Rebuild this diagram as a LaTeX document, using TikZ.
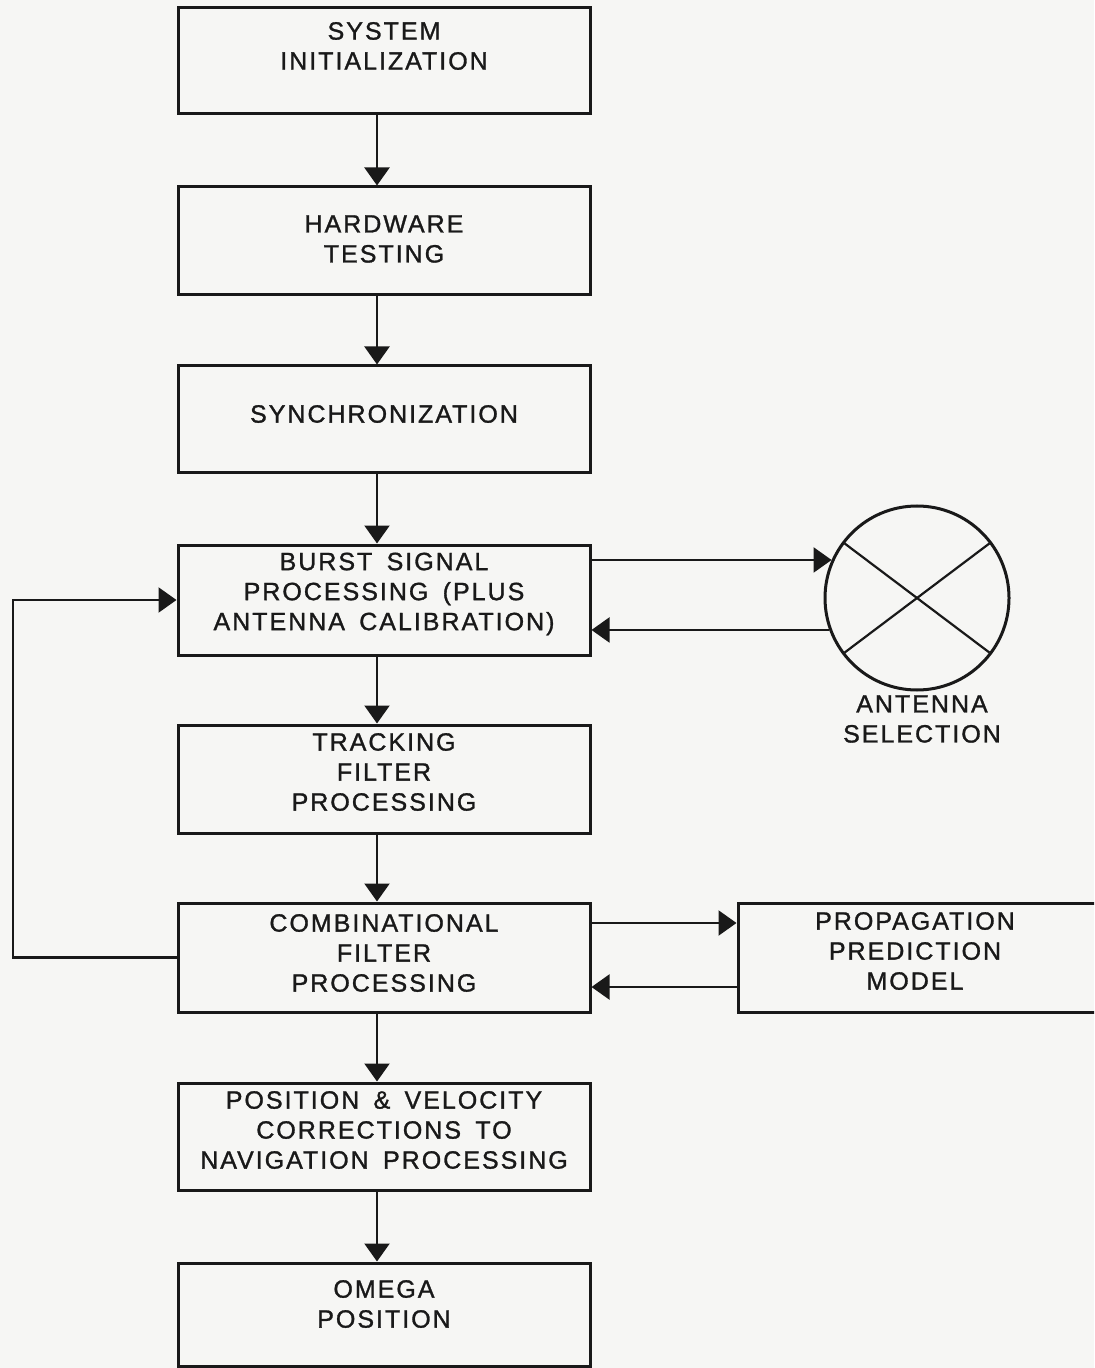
\documentclass[tikz,border=0pt]{standalone}
\usepackage{fontspec}
\setmainfont{Liberation Sans}[LetterSpace=8,FakeBold=1.2,WordSpace=1.6]
\usetikzlibrary{arrows.meta,calc}
\definecolor{paper}{RGB}{246,246,244}
\definecolor{ink}{RGB}{25,25,25}
\begin{document}
\begin{tikzpicture}[x=0.5pt,y=-0.5pt,
  box/.style={draw=ink,line width=1.5pt,rectangle,inner sep=0pt,minimum width=206pt},
  lbl/.style={align=center,inner sep=0pt,text=ink,font=\fontsize{12.5}{15}\selectfont},
  arr/.style={draw=ink,line width=1.1pt,-{Triangle[width=12.5pt,length=9pt]}},
  ln/.style={draw=ink,line width=1.1pt}]
\fill[paper] (0,0) rectangle (1094,1368);
\useasboundingbox (0,0) rectangle (1094,1368);
\clip (0,0) rectangle (1094,1368);
% boxes
\node[box,minimum height=53pt] (b1) at (384,61) {};
\node[box,minimum height=54pt] (b2) at (384,241) {};
\node[box,minimum height=53.5pt] (b3) at (384,419.5) {};
\node[box,minimum height=55pt] (b4) at (384,600) {};
\node[box,minimum height=54pt] (b5) at (384,779) {};
\node[box,minimum height=54.5pt] (b6) at (384,957.5) {};
\node[box,minimum height=53.5pt] (b7) at (384,1136.5) {};
\node[box,minimum height=51.5pt] (b8) at (384,1314.5) {};
\node[box,minimum width=181pt,minimum height=54.5pt] (prop) at (919,957.5) {};
\node[draw=ink,line width=1.5pt,circle,minimum size=92pt,inner sep=0pt] (ant) at (917,598) {};
% labels
\node[lbl] (t1) at (384,46) {SYSTEM\\INITIALIZATION};
\node[lbl] (t2) at (384,239) {HARDWARE\\TESTING};
\node[lbl] (t3) at (384,414) {SYNCHRONIZATION};
\node[lbl] (t4) at (384,594) {BURST SIGNAL\\PROCESSING (PLUS\\ANTENNA CALIBRATION)};
\node[lbl] (t5) at (384,772) {TRACKING\\FILTER\\PROCESSING};
\node[lbl] (t6) at (384,953) {COMBINATIONAL\\FILTER\\PROCESSING};
\node[lbl] (t7) at (384,1130) {POSITION \& VELOCITY\\CORRECTIONS TO\\NAVIGATION PROCESSING};
\node[lbl] (t8) at (384,1304) {OMEGA\\POSITION};
\node[lbl] (tp) at (915,951) {PROPAGATION\\PREDICTION\\MODEL};
\node[lbl] (ta) at (922,719) {ANTENNA\\SELECTION};
% cross in circle
\draw[ln] ($(ant.center)!0.97!(ant.143)$) -- ($(ant.center)!0.97!(ant.-37)$);
\draw[ln] ($(ant.center)!0.97!(ant.37)$) -- ($(ant.center)!0.97!(ant.217)$);
% vertical flow
\coordinate (ax) at (377,0);
\draw[arr] (b1.south -| ax) -- (b2.north -| ax);
\draw[arr] (b2.south -| ax) -- (b3.north -| ax);
\draw[arr] (b3.south -| ax) -- (b4.north -| ax);
\draw[arr] (b4.south -| ax) -- (b5.north -| ax);
\draw[arr] (b5.south -| ax) -- (b6.north -| ax);
\draw[arr] (b6.south -| ax) -- (b7.north -| ax);
\draw[arr] (b7.south -| ax) -- (b8.north -| ax);
% antenna selection
\draw[arr] (b4.east |- ant.156) -- (ant.156);
\draw[arr] (ant.200) -- (b4.east |- ant.200);
% propagation model
\coordinate (pa) at (0,923);
\coordinate (pb) at (0,987);
\draw[arr] (b6.east |- pa) -- (prop.west |- pa);
\draw[arr] (prop.west |- pb) -- (b6.east |- pb);
% feedback loop
\coordinate (lp) at (13,0);
\draw[arr] (b6.west) -- (b6.west -| lp) -- (b4.west -| lp) -- (b4.west);
\end{tikzpicture}
\end{document}
